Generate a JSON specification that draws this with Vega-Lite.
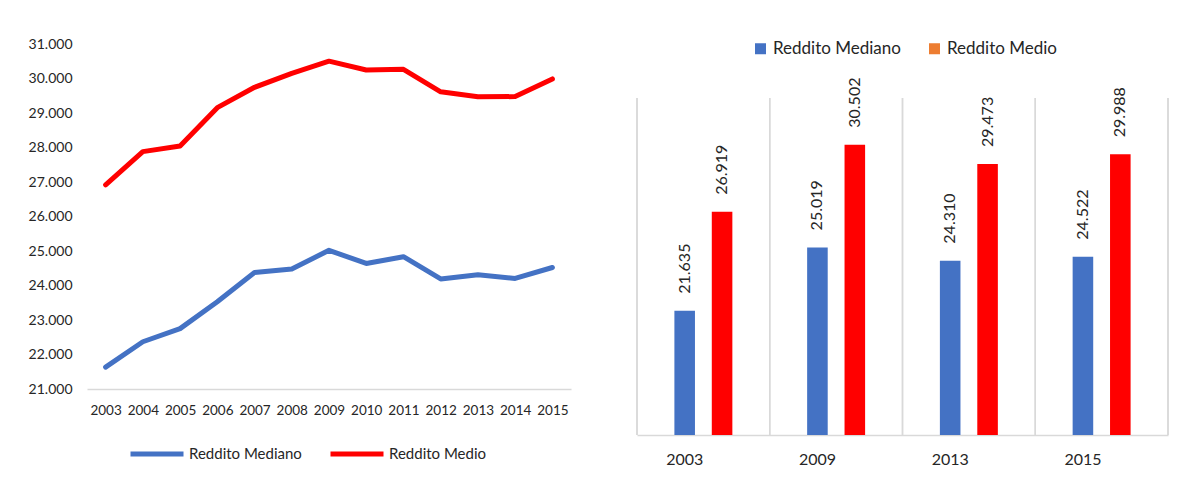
{
  "$schema": "https://vega.github.io/schema/vega-lite/v6.json",
  "background": "white",
  "padding": {"left": 28, "top": 37, "right": 0, "bottom": 0},
  "spacing": 65,
  "config": {
    "font": "Lato",
    "view": {"stroke": null},
    "locale": {"number": {"decimal": ",", "thousands": ".", "grouping": [3], "currency": ["€", ""]}},
    "axis": {"labelFont": "Lato", "labelColor": "#262626", "ticks": false, "grid": false, "title": null},
    "legend": {"labelFont": "Lato", "labelColor": "#262626", "title": null}
  },
  "datasets": {
    "reddito": [
      {"year": "2003", "series": "Reddito Mediano", "value": 21635},
      {"year": "2004", "series": "Reddito Mediano", "value": 22370},
      {"year": "2005", "series": "Reddito Mediano", "value": 22750},
      {"year": "2006", "series": "Reddito Mediano", "value": 23530},
      {"year": "2007", "series": "Reddito Mediano", "value": 24380},
      {"year": "2008", "series": "Reddito Mediano", "value": 24480},
      {"year": "2009", "series": "Reddito Mediano", "value": 25019},
      {"year": "2010", "series": "Reddito Mediano", "value": 24640},
      {"year": "2011", "series": "Reddito Mediano", "value": 24835},
      {"year": "2012", "series": "Reddito Mediano", "value": 24190},
      {"year": "2013", "series": "Reddito Mediano", "value": 24310},
      {"year": "2014", "series": "Reddito Mediano", "value": 24205},
      {"year": "2015", "series": "Reddito Mediano", "value": 24522},
      {"year": "2003", "series": "Reddito Medio", "value": 26919},
      {"year": "2004", "series": "Reddito Medio", "value": 27880},
      {"year": "2005", "series": "Reddito Medio", "value": 28045},
      {"year": "2006", "series": "Reddito Medio", "value": 29155},
      {"year": "2007", "series": "Reddito Medio", "value": 29745},
      {"year": "2008", "series": "Reddito Medio", "value": 30150},
      {"year": "2009", "series": "Reddito Medio", "value": 30502},
      {"year": "2010", "series": "Reddito Medio", "value": 30245},
      {"year": "2011", "series": "Reddito Medio", "value": 30265},
      {"year": "2012", "series": "Reddito Medio", "value": 29615},
      {"year": "2013", "series": "Reddito Medio", "value": 29473},
      {"year": "2014", "series": "Reddito Medio", "value": 29475},
      {"year": "2015", "series": "Reddito Medio", "value": 29988}
    ]
  },
  "resolve": {"scale": {"color": "independent", "x": "independent", "y": "independent"}, "legend": {"color": "independent"}},
  "hconcat": [
    {
      "width": 484,
      "height": 345,
      "data": {"name": "reddito"},
      "mark": {"type": "line", "strokeWidth": 5, "strokeCap": "round", "strokeJoin": "round"},
      "encoding": {
        "x": {
          "field": "year", "type": "ordinal",
          "scale": {"padding": 0.5},
          "axis": {"labelAngle": 0, "labelFontSize": 13.5, "labelPadding": 14, "domainColor": "#d9d9d9", "domainWidth": 1.5}
        },
        "y": {
          "field": "value", "type": "quantitative",
          "scale": {"domain": [21000, 31000], "nice": false, "zero": false},
          "axis": {
            "values": [21000, 22000, 23000, 24000, 25000, 26000, 27000, 28000, 29000, 30000, 31000],
            "format": ",.0f", "domain": false, "labelFontSize": 14, "labelPadding": 15,
            "minExtent": 59, "maxExtent": 59
          }
        },
        "color": {
          "field": "series", "type": "nominal",
          "scale": {"domain": ["Reddito Mediano", "Reddito Medio"], "range": ["#4472C4", "#FF0000"]},
          "legend": {
            "orient": "none", "direction": "horizontal", "legendX": 41, "legendY": 381,
            "symbolType": "stroke", "symbolSize": 2809, "symbolStrokeWidth": 5,
            "labelFontSize": 15, "labelOffset": 3, "columnPadding": 18
          }
        }
      }
    },
    {
      "width": 531,
      "height": 391,
      "data": {"name": "reddito"},
      "transform": [{"filter": {"field": "year", "oneOf": ["2003", "2009", "2013", "2015"]}}],
      "layer": [
        {
          "mark": {"type": "rule", "color": "#d9d9d9", "strokeWidth": 1.5},
          "encoding": {
            "x": {"field": "year", "type": "nominal", "bandPosition": 0},
            "y": {"datum": 15000, "type": "quantitative"},
            "y2": {"datum": 33000}
          }
        },
        {
          "transform": [{"filter": "datum.year === '2015'"}],
          "mark": {"type": "rule", "color": "#d9d9d9", "strokeWidth": 1.5},
          "encoding": {
            "x": {"field": "year", "type": "nominal", "bandPosition": 1},
            "y": {"datum": 15000, "type": "quantitative"},
            "y2": {"datum": 33000}
          }
        },
        {
          "mark": {"type": "bar"},
          "encoding": {
            "x": {"field": "year", "type": "nominal"},
            "xOffset": {"field": "series", "type": "nominal"},
            "y": {"datum": 15000, "type": "quantitative"},
            "y2": {"datum": 15000},
            "color": {
              "field": "series", "type": "nominal",
              "scale": {"domain": ["Reddito Mediano", "Reddito Medio"], "range": ["#4472C4", "#ED7D31"]},
              "legend": {
                "orient": "none", "direction": "horizontal", "legendX": 115, "legendY": -4,
                "symbolType": "square", "symbolSize": 121, "symbolStrokeWidth": 0,
                "labelFontSize": 17, "labelOffset": 4, "columnPadding": 25
              }
            }
          }
        },
        {
          "mark": {"type": "bar"},
          "encoding": {
            "x": {
              "field": "year", "type": "nominal",
              "scale": {"paddingInner": 0, "paddingOuter": 0},
              "axis": {"labelAngle": 0, "labelFontSize": 16, "labelPadding": 24, "domainColor": "#d9d9d9", "domainWidth": 1.5}
            },
            "xOffset": {"field": "series", "type": "nominal", "scale": {"paddingInner": 0.45, "paddingOuter": 1.15}},
            "y": {"field": "value", "type": "quantitative", "scale": {"domain": [15000, 35882], "nice": false, "zero": false}, "axis": null},
            "y2": {"datum": 15000},
            "color": {"condition": {"test": "datum.series === 'Reddito Medio'", "value": "#FF0000"}, "value": "#4472C4"}
          }
        },
        {
          "mark": {"type": "text", "angle": 270, "align": "left", "baseline": "middle", "dx": 17, "fontSize": 16, "color": "#262626"},
          "encoding": {
            "x": {"field": "year", "type": "nominal"},
            "xOffset": {"field": "series", "type": "nominal"},
            "y": {"field": "value", "type": "quantitative"},
            "text": {"field": "value", "type": "quantitative", "format": ",.0f"}
          }
        }
      ]
    }
  ]
}
